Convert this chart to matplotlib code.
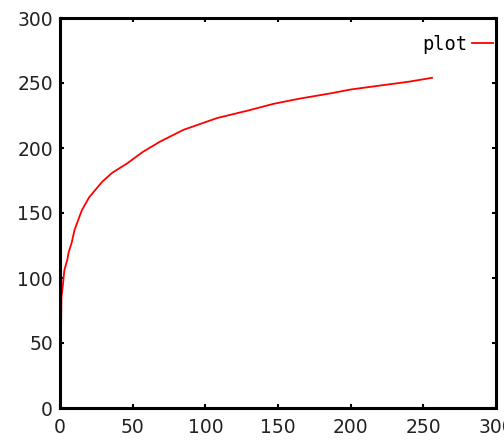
import matplotlib
matplotlib.use('Agg')
import matplotlib.pyplot as plt

# valeurs
x_vals = [0, 0.5, 1, 2, 3, 5, 6, 8, 10, 15, 20, 29, 36, 46, 57, 69, 85,
          108, 130, 147, 165, 186, 200, 220, 240, 256]
y_vals = [0, 40, 85, 95, 106, 114, 120, 127, 137, 152, 162, 174, 181, 188,
          197, 205, 214, 223, 229, 234, 238, 242, 245, 248, 251, 254]

x_ticks = [0, 50, 100, 150, 200, 250, 300]
y_ticks = [0, 50, 100, 150, 200, 250, 300]

fig = plt.figure(figsize=(5.04, 4.41), dpi=100)
ax = fig.add_axes([60 / 504, 33 / 441, 436 / 504, 390 / 441])

ax.plot(x_vals, y_vals, color='#ff0000', linewidth=1.3, label='plot')

ax.set_xlim(0, 300)
ax.set_ylim(0, 300)
ax.set_xticks(x_ticks)
ax.set_yticks(y_ticks)
ax.tick_params(direction='in', length=3, width=1.5, top=True, right=True,
               labelsize=13.5, colors='black', labelcolor='#222222')
ax.tick_params(axis='x', pad=7)
ax.tick_params(axis='y', pad=5)
for sp in ax.spines.values():
    sp.set_linewidth(2.2)

# légende en haut à droite, texte avant le trait
leg = ax.legend(loc='upper right', markerfirst=False, frameon=False,
                handlelength=1.1, handletextpad=0.3, borderaxespad=0,
                borderpad=0, bbox_to_anchor=((493 - 60) / 436, (408 - 35) / 390),
                prop={'family': 'DejaVu Sans Mono', 'size': 13.5})

plt.savefig('out.png', dpi=100)
plt.close()
